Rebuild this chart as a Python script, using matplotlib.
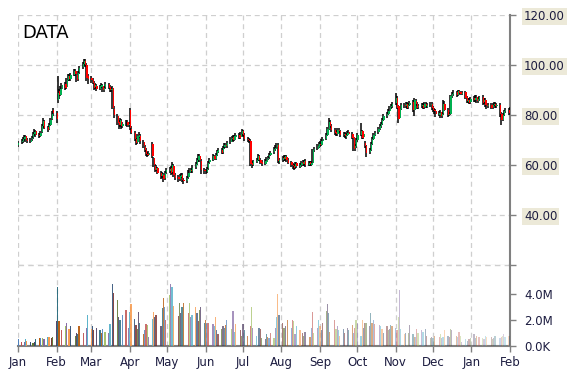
import matplotlib
matplotlib.use('Agg')
import matplotlib.pyplot as plt
import matplotlib.dates as mdates
import numpy as np
import pandas as pd

# daily candles, one line per month (Jan .. Dec, Jan, Feb)
opens = [
    68.2, 69.2, 69.6, 70.4, 71.5, 70.2, 69.4, 70.3, 71.2, 72.4, 73.5, 72.2, 71.8, 73.4, 75.8, 77.5, 75.2, 74.5, 76.2, 78.6, 82.0,
    81.0, 86.0, 89.5, 88.2, 90.3, 92.5, 91.2, 94.2, 95.8, 94.6, 96.2, 97.6, 96.2, 94.5, 97.2, 99.2, 100.6, 101.8, 100.2, 95.5,
    94.8, 94.2, 92.8, 91.2, 91.8, 90.6, 91.4, 91.8, 90.2, 91.2, 92.3, 91.2, 90.1, 91.0, 82.5, 79.5, 77.2, 76.2, 77.6, 75.6, 76.8, 77.2, 76.0,
    82.0, 74.6, 72.8, 70.3, 69.2, 71.2, 71.6, 69.3, 67.4, 66.2, 64.3, 64.2, 68.5, 62.8, 59.6, 58.2, 58.6, 56.8, 55.6, 56.2, 54.8, 57.2,
    57.8, 58.8, 57.2, 59.8, 56.2, 55.2, 54.6, 55.4, 56.2, 54.1, 53.7, 55.2, 57.1, 58.1, 57.6, 59.2, 60.6, 62.2, 63.6, 61.5, 58.2,
    57.8, 57.4, 58.7, 61.2, 62.2, 63.6, 62.6, 64.2, 65.4, 66.2, 65.2, 67.1, 68.2, 67.6, 69.2, 70.4, 71.2, 70.2, 71.4, 72.2, 71.1, 72.4,
    73.6, 72.2, 70.4, 70.2, 69.8, 60.8, 60.2, 61.4, 62.2, 63.6, 62.2, 61.2, 60.6, 61.4, 62.6, 63.2, 64.2, 65.1, 66.4, 67.2, 68.2, 61.2,
    62.1, 63.2, 62.4, 63.4, 62.2, 61.2, 60.2, 59.6, 59.2, 60.6, 59.4, 60.1, 61.2, 60.4, 61.6, 60.2, 61.2, 60.2, 60.8, 66.2, 66.6, 67.4,
    68.6, 68.2, 69.6, 70.6, 72.2, 74.6, 77.2, 75.6, 74.2, 73.2, 72.4, 74.2, 73.6, 72.1, 72.6, 71.4, 72.2, 73.2, 72.6, 71.2, 66.8, 67.6,
    70.2, 72.2, 73.6, 71.2, 68.8, 67.6, 65.2, 66.2, 68.6, 70.6, 72.2, 73.1, 74.6, 75.6, 76.6, 78.1, 79.6, 80.6, 81.6, 83.1, 83.6,
    84.8, 86.8, 83.4, 79.0, 82.6, 84.2, 83.6, 84.4, 83.2, 84.2, 85.2, 82.2, 85.8, 84.6, 83.2, 83.6, 84.2, 83.2, 84.6, 83.4, 84.1, 84.6,
    83.2, 82.2, 81.6, 80.2, 81.2, 79.6, 80.8, 84.6, 82.2, 80.2, 80.6, 87.6, 88.4, 89.2, 88.2, 89.6, 89.2, 88.4, 89.2, 87.2, 85.4, 86.2, 85.2,
    86.8, 86.2, 87.2, 85.6, 86.6, 87.2, 85.2, 86.2, 84.2, 83.6, 84.2, 83.2, 84.1, 84.6, 83.6, 84.2, 80.6, 78.2, 80.1, 81.6, 82.2,
    81.2,
]
highs = [
    69.8, 70.6, 71.2, 72.0, 71.9, 70.8, 70.9, 71.8, 73.2, 74.3, 74.0, 72.8, 73.8, 76.4, 79.0, 78.2, 75.8, 76.9, 79.0, 81.5, 83.0,
    81.8, 95.5, 90.5, 91.5, 92.8, 93.4, 94.9, 96.5, 96.6, 96.8, 98.4, 98.5, 96.8, 97.8, 99.8, 101.2, 102.5, 102.6, 100.8, 96.4,
    95.6, 95.0, 93.6, 92.8, 92.6, 92.2, 92.9, 92.5, 91.8, 93.3, 93.0, 91.9, 91.4, 91.6, 83.8, 80.6, 78.0, 79.0, 78.3, 77.4, 77.9, 78.0, 77.3,
    83.0, 75.6, 73.5, 71.0, 72.4, 73.1, 72.3, 70.0, 68.2, 66.8, 65.2, 65.8, 69.4, 63.4, 60.3, 59.9, 59.3, 57.5, 57.3, 56.9, 57.8, 58.9,
    59.4, 59.6, 61.2, 60.6, 57.0, 55.9, 56.4, 57.0, 56.8, 54.8, 55.8, 57.9, 58.9, 58.8, 59.9, 61.3, 62.8, 64.4, 64.6, 62.3, 58.9,
    58.6, 59.2, 61.8, 62.8, 64.3, 64.2, 64.8, 66.2, 66.9, 66.8, 67.8, 68.7, 68.8, 69.8, 71.2, 71.8, 71.9, 72.2, 72.8, 72.9, 73.2, 74.6,
    74.2, 72.9, 71.3, 70.9, 70.4, 61.6, 62.2, 62.7, 64.4, 64.2, 62.8, 61.9, 62.3, 63.2, 63.8, 64.9, 65.7, 67.3, 67.9, 68.9, 68.9, 62.8,
    63.8, 64.0, 64.2, 64.1, 62.9, 61.8, 60.9, 60.3, 61.2, 61.4, 60.7, 61.8, 61.9, 62.1, 62.4, 61.7, 61.8, 61.7, 66.6, 67.3, 68.3, 69.4,
    69.5, 70.3, 71.3, 72.8, 75.4, 78.8, 77.9, 76.3, 74.8, 73.9, 74.7, 74.9, 74.2, 73.3, 73.4, 72.8, 73.8, 73.9, 73.4, 71.9, 68.3, 70.8,
    72.8, 76.8, 74.2, 73.4, 69.5, 68.2, 66.8, 69.2, 71.4, 72.8, 73.8, 75.2, 76.3, 77.3, 78.8, 80.3, 81.3, 82.3, 83.8, 84.3, 85.3,
    89.0, 87.8, 84.0, 83.3, 84.8, 84.9, 85.3, 85.1, 84.8, 85.8, 86.2, 87.0, 86.6, 85.2, 84.4, 84.7, 84.9, 85.3, 85.2, 84.8, 85.2, 85.3,
    83.8, 83.0, 82.6, 81.8, 81.9, 81.2, 86.2, 85.5, 82.8, 81.4, 88.2, 89.4, 89.9, 89.8, 90.2, 90.1, 89.8, 89.8, 89.8, 87.8, 86.8, 86.9, 87.3,
    87.6, 88.2, 88.0, 87.2, 87.8, 87.9, 86.9, 86.9, 85.0, 84.8, 84.9, 84.8, 85.3, 85.4, 84.7, 85.0, 81.2, 80.8, 82.2, 82.8, 82.9,
    83.2,
]
lows = [
    67.4, 68.6, 69.0, 69.8, 69.4, 68.8, 68.9, 69.8, 70.6, 71.8, 71.3, 70.7, 71.2, 72.8, 75.0, 74.3, 73.2, 73.9, 75.5, 78.0, 79.5,
    76.8, 85.0, 86.5, 87.6, 89.5, 90.2, 90.6, 93.5, 93.6, 93.8, 95.5, 95.8, 93.2, 93.6, 96.4, 98.4, 99.8, 99.2, 93.8, 92.6,
    93.0, 92.3, 90.2, 90.5, 89.6, 89.9, 90.7, 89.2, 89.4, 90.5, 90.3, 89.2, 89.4, 82.4, 78.8, 76.2, 74.6, 75.4, 74.6, 74.9, 75.8, 75.2, 75.2,
    74.2, 72.3, 69.6, 67.9, 68.5, 70.8, 68.6, 66.7, 65.2, 63.7, 63.2, 63.5, 62.9, 59.2, 57.2, 57.5, 56.3, 54.6, 55.0, 53.4, 54.2, 56.5,
    56.9, 56.2, 56.6, 55.2, 54.1, 53.2, 53.8, 54.8, 53.3, 52.4, 53.0, 54.6, 56.5, 56.8, 56.9, 58.6, 59.9, 61.4, 61.2, 56.6, 56.4,
    56.4, 56.8, 58.2, 60.4, 61.6, 62.0, 62.0, 63.6, 64.8, 64.4, 64.6, 66.5, 66.8, 67.0, 68.6, 69.8, 69.4, 69.6, 70.8, 70.4, 70.5, 71.8,
    71.4, 69.8, 69.3, 68.8, 59.8, 58.8, 59.6, 60.8, 61.7, 61.6, 60.4, 59.7, 60.0, 60.9, 62.0, 62.5, 63.6, 64.5, 65.8, 66.5, 60.8, 60.6,
    61.4, 61.8, 61.8, 61.3, 60.4, 59.2, 58.6, 58.2, 58.6, 58.8, 58.8, 59.4, 59.8, 59.8, 59.4, 59.6, 59.8, 59.6, 60.2, 65.4, 65.9, 66.8,
    67.2, 67.5, 68.9, 69.9, 71.6, 74.0, 74.8, 73.3, 72.2, 71.6, 71.7, 72.8, 71.3, 71.4, 70.8, 70.6, 71.5, 71.9, 70.4, 65.8, 65.6, 67.0,
    69.4, 71.6, 70.3, 70.5, 66.8, 63.2, 64.3, 65.6, 68.0, 70.0, 71.5, 72.6, 74.0, 75.0, 76.0, 77.5, 79.0, 80.0, 81.0, 82.4, 83.0,
    84.0, 82.4, 76.8, 78.4, 81.9, 82.8, 82.9, 82.4, 82.6, 83.5, 81.3, 79.8, 83.8, 82.4, 82.6, 82.9, 82.3, 82.6, 82.8, 82.9, 83.4, 82.2,
    81.3, 80.6, 79.3, 79.6, 78.8, 78.9, 80.2, 81.5, 79.2, 79.6, 80.2, 87.0, 87.8, 87.4, 87.8, 88.3, 87.9, 88.0, 86.4, 84.8, 84.9, 84.3, 84.6,
    85.2, 85.4, 84.8, 84.9, 85.8, 84.2, 84.6, 83.4, 82.6, 82.9, 82.3, 82.6, 83.6, 82.8, 83.0, 79.4, 76.2, 77.5, 79.5, 80.9, 80.2,
    80.8,
]
closes = [
    69.0, 69.8, 70.5, 71.2, 70.0, 69.5, 70.2, 71.0, 72.5, 73.4, 72.0, 71.5, 73.0, 75.5, 77.8, 75.0, 74.2, 76.0, 78.2, 80.5, 81.0,
    78.5, 89.0, 88.0, 90.5, 92.0, 91.0, 94.0, 95.5, 94.5, 96.0, 97.5, 96.5, 94.0, 97.0, 99.0, 100.5, 101.5, 100.0, 95.0, 94.5,
    94.0, 93.0, 91.0, 92.0, 90.5, 91.5, 92.0, 90.0, 91.0, 92.5, 91.0, 90.0, 90.5, 83.0, 80.0, 77.0, 76.0, 78.0, 75.5, 76.5, 77.0, 76.0, 76.5,
    75.0, 73.0, 70.5, 69.0, 71.5, 72.0, 69.5, 67.5, 66.0, 64.5, 64.0, 65.0, 63.5, 60.0, 58.0, 59.0, 57.0, 55.5, 56.5, 54.5, 57.0, 58.0,
    58.5, 57.0, 60.0, 56.0, 55.0, 54.5, 55.5, 56.0, 54.0, 53.5, 55.0, 57.0, 58.0, 57.5, 59.0, 60.5, 62.0, 63.5, 62.0, 58.0, 57.5,
    57.5, 58.5, 61.0, 62.0, 63.5, 62.5, 64.0, 65.5, 66.0, 65.0, 67.0, 68.0, 67.5, 69.0, 70.5, 71.0, 70.0, 71.5, 72.0, 71.0, 72.5, 73.5,
    72.0, 70.5, 70.0, 69.5, 60.5, 60.0, 61.5, 62.0, 63.5, 62.0, 61.0, 60.5, 61.5, 62.5, 63.0, 64.0, 65.0, 66.5, 67.0, 68.0, 61.5, 62.0,
    63.0, 62.5, 63.5, 62.0, 61.0, 60.0, 59.5, 59.0, 60.5, 59.5, 60.0, 61.0, 60.5, 61.5, 60.0, 61.0, 60.5, 61.0, 66.0, 66.5, 67.5, 68.5,
    68.0, 69.5, 70.5, 72.0, 74.5, 77.0, 75.5, 74.0, 73.0, 72.5, 74.0, 73.5, 72.0, 72.5, 71.5, 72.0, 73.0, 72.5, 71.0, 66.5, 67.5, 70.0,
    72.0, 73.5, 71.0, 72.5, 67.5, 65.0, 66.0, 68.5, 70.5, 72.0, 73.0, 74.5, 75.5, 76.5, 78.0, 79.5, 80.5, 81.5, 83.0, 83.5, 84.5,
    87.0, 83.0, 78.5, 82.5, 84.0, 83.5, 84.5, 83.0, 84.0, 85.0, 82.0, 86.0, 84.5, 83.0, 83.5, 84.0, 83.0, 84.5, 83.5, 84.0, 84.5, 83.0,
    82.0, 81.5, 80.5, 81.0, 79.5, 80.5, 84.5, 82.0, 80.0, 80.5, 87.5, 88.5, 89.0, 88.0, 89.5, 89.0, 88.5, 89.0, 87.0, 85.5, 86.0, 85.0, 86.5,
    86.0, 87.0, 85.5, 86.5, 87.0, 85.0, 86.0, 84.0, 83.5, 84.0, 83.0, 84.0, 84.5, 83.5, 84.0, 80.5, 78.0, 80.0, 81.5, 82.0, 81.0,
    82.5,
]
# volume in millions
volumes = [
    0.5, 0.3, 0.0, 0.3, 0.5, 0.4, 0.3, 0.0, 0.2, 0.3, 0.5, 0.6, 0.6, 0.0, 0.6, 0.5, 0.7, 0.7, 0.0, 0.6, 0.7,
    1.9, 4.5, 1.9, 0.0, 1.2, 1.5, 1.8, 0.0, 1.3, 1.5, 0.0, 0.8, 1.0, 0.9, 1.5, 0.0, 1.0, 0.0, 1.4, 2.4,
    1.3, 1.5, 1.2, 0.0, 1.4, 1.2, 1.0, 1.3, 0.0, 1.1, 1.0, 1.7, 0.0, 4.8, 4.1, 3.5, 2.2, 2.0, 0.0, 2.4, 2.8, 0.0, 1.4,
    2.6, 3.2, 2.1, 1.6, 1.3, 2.6, 1.8, 0.9, 1.2, 1.7, 1.6, 0.7, 2.1, 2.6, 2.2, 2.4, 0.0, 1.5, 2.9, 3.7, 3.0, 2.0,
    3.9, 4.8, 4.5, 3.1, 0.0, 2.3, 3.3, 2.5, 3.0, 3.3, 0.0, 2.5, 3.3, 2.2, 2.4, 3.0, 2.5, 1.9, 2.8, 3.0, 1.8,
    2.0, 1.8, 1.8, 0.0, 1.7, 1.5, 2.2, 1.2, 0.9, 1.3, 1.5, 1.4, 1.6, 2.0, 0.0, 1.3, 2.7, 1.1, 1.7, 0.0, 1.2, 0.8,
    1.7, 1.2, 0.8, 0.0, 1.5, 3.0, 1.4, 0.8, 0.0, 1.4, 1.3, 0.6, 0.5, 0.9, 0.7, 0.6, 1.0, 0.6, 1.4, 2.2, 4.0, 2.4,
    1.8, 1.4, 1.5, 0.0, 2.0, 1.4, 2.0, 1.9, 0.9, 1.5, 1.2, 0.0, 1.0, 0.8, 1.1, 0.0, 0.7, 1.4, 2.6, 1.0, 1.4, 2.0,
    1.5, 1.2, 1.8, 2.7, 3.2, 2.5, 1.1, 0.0, 2.0, 1.3, 1.5, 1.2, 0.8, 1.3, 1.0, 0.0, 1.4, 1.2, 1.6, 1.0, 1.4, 2.0,
    1.8, 0.8, 2.0, 1.4, 1.8, 1.8, 1.5, 2.5, 1.8, 2.0, 1.7, 0.0, 1.6, 1.5, 1.3, 1.0, 1.5, 1.2, 1.3, 1.6, 1.5,
    1.4, 1.2, 2.2, 4.3, 1.3, 0.9, 1.0, 0.0, 1.0, 1.6, 0.9, 0.7, 0.7, 1.3, 1.0, 1.2, 1.1, 0.0, 1.3, 0.8, 0.6, 0.7,
    0.6, 0.8, 0.0, 0.7, 0.9, 0.6, 0.7, 1.2, 0.8, 0.7, 1.3, 1.2, 0.0, 0.8, 0.7, 1.1, 0.8, 0.3, 0.5, 0.0, 0.4, 0.5, 0.6,
    0.9, 0.6, 0.8, 0.0, 0.7, 0.6, 0.5, 0.8, 0.7, 0.0, 0.7, 0.5, 0.6, 0.8, 0.0, 0.6, 0.7, 0.8, 0.9, 0.7, 0.8,
    0.8,
]
month_labels = ["Jan", "Feb", "Mar", "Apr", "May", "Jun", "Jul", "Aug", "Sep", "Oct", "Nov", "Dec", "Jan", "Feb"]
price_ticks = [20, 40, 60, 80, 100, 120]
price_tick_labels = ["", "40.00", "60.00", "80.00", "100.00", "120.00"]
vol_ticks = [0, 2e6, 4e6]
vol_tick_labels = ["0.0K", "2.0M", "4.0M"]

vol_colors = ["#4F81BD", "#C0504D", "#9BBB59", "#8064A2", "#4BACC6", "#F79646",
              "#2C4D75", "#772C2A", "#5F7530", "#4D3B62", "#276A7C", "#B65708"]
up_color = "#00B050"
down_color = "#FF0000"
text_color = "#1c1c40"
grid_color = "#cfcfcf"
spine_color = "#808080"
dash = (0, (4, 3))

n = min(len(opens), len(highs), len(lows), len(closes), len(volumes))
o = np.array(opens[:n])
h = np.array(highs[:n])
l = np.array(lows[:n])
c = np.array(closes[:n])
v = np.array(volumes[:n]) * 1e6
dates = pd.bdate_range("2021-01-01", periods=n)
x = mdates.date2num(dates)
month_starts = mdates.date2num(pd.date_range("2021-01-01", "2022-02-01", freq="MS"))

W, H = 570, 370
fig = plt.figure(figsize=(W / 100, H / 100), dpi=100)
ax = fig.add_axes([18 / W, 1 - 265 / H, (510 - 18) / W, (265 - 15) / H])
axv = fig.add_axes([18 / W, 1 - 346 / H, (510 - 18) / W, (346 - 265) / H])
axv.patch.set_alpha(0)

# candles
up = c >= o
body_col = np.where(up, up_color, down_color)
ax.vlines(x, l, h, color="black", lw=1.1, zorder=3)
ax.bar(x + 0.6, np.maximum(np.abs(c - o), 0.15), bottom=np.minimum(o, c),
       width=1.0, color=body_col, lw=0, zorder=4)

# volume bars, fading over time
alphas = np.linspace(1.0, 0.3, n)
for i in range(n):
    if v[i] > 0:
        axv.bar(x[i], v[i], width=1.0, color=vol_colors[i % len(vol_colors)],
                alpha=alphas[i], lw=0, zorder=3)

for a in (ax, axv):
    a.set_xlim(month_starts[0], month_starts[-1])
    a.set_xticks(month_starts)
    a.spines["left"].set_visible(False)
    a.spines["top"].set_visible(False)
    a.spines["right"].set_color(spine_color)
    a.spines["right"].set_linewidth(1.5)
    a.yaxis.tick_right()
    a.tick_params(axis="y", colors=spine_color, labelcolor=text_color, length=4, width=1,
                  labelsize=8.5, pad=6)
    a.set_axisbelow(True)

ax.set_ylim(20, 120)
ax.set_yticks(price_ticks)
ax.set_yticklabels(price_tick_labels)
for t in ax.get_yticklabels():
    t.set_bbox(dict(facecolor="#ECE9D8", edgecolor="none", pad=1.5))
ax.spines["bottom"].set_visible(False)
ax.tick_params(axis="x", length=0, labelbottom=False)
ax.grid(True, color=grid_color, linestyle=dash, lw=0.9)
# dashed border between the two panels
ax.axhline(20, color=grid_color, linestyle=dash, lw=1.0, clip_on=False, zorder=1)

axv.set_ylim(0, 6.23e6)
axv.set_yticks(vol_ticks)
axv.set_yticklabels(vol_tick_labels)
axv.spines["bottom"].set_color(spine_color)
axv.spines["bottom"].set_linewidth(1.5)
axv.set_xticklabels(month_labels)
axv.tick_params(axis="x", colors=spine_color, labelcolor=text_color, length=4, width=1,
                labelsize=8.5, pad=3)
axv.grid(True, axis="x", color=grid_color, linestyle=dash, lw=0.9)

fig.text(22 / W, 1 - 33 / H, "DATA", fontsize=13, va="center", ha="left", color="black")

plt.savefig("out.png", dpi=100)
plt.close()
